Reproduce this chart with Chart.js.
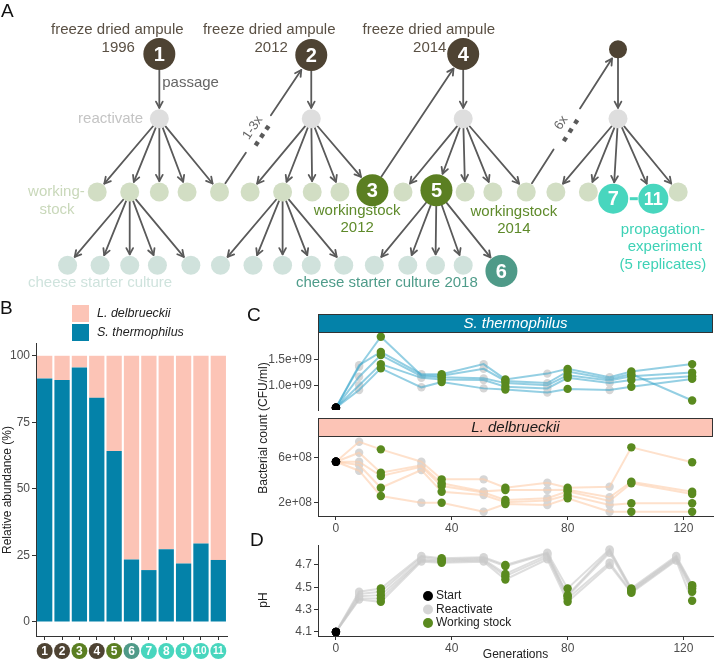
<!DOCTYPE html>
<html>
<head>
<meta charset="utf-8">
<script src="https://cdn.jsdelivr.net/npm/chart.js@4.4.1/dist/chart.umd.min.js"></script>
<style>
body { margin: 0; background: #fff; }
#wrap { position: relative; width: 720px; height: 660px; }
canvas { position: absolute; left: 0; top: 0; }
</style>
</head>
<body>
<div id="wrap">
  <canvas id="chartA" width="720" height="660"></canvas>
  <canvas id="chartB" width="720" height="660"></canvas>
  <canvas id="chartC1" width="720" height="660"></canvas>
  <canvas id="chartC2" width="720" height="660"></canvas>
  <canvas id="chartD" width="720" height="660"></canvas>
</div>
<script>
// ---- panel A: passage scheme (nodes in diagram units) ----
const nodeX = [150, 309, 468, 630,
  150, 309, 468, 630,
  85, 119, 150, 179, 213, 245, 279, 310, 339, 373, 405, 440, 470, 499, 534, 565, 599, 625, 667, 693,
  54, 88, 119, 148, 183, 214, 248, 279, 309, 343, 375, 410, 439, 468, 508]
const nodeY = [40, 41, 40, 35,
  108, 108, 108, 108,
  185, 185, 185, 185, 185, 185, 185, 185, 185, 183, 185, 183, 185, 185, 185, 185, 185, 192, 192, 185,
  262, 262, 262, 262, 262, 262, 262, 262, 262, 262, 262, 262, 262, 262, 268]
const nodeKind = ['ampule', 'ampule', 'ampule', 'ampuleSmall',
  'reactivate', 'reactivate', 'reactivate', 'reactivate',
  'stock', 'stock', 'stock', 'stock', 'stock', 'stock', 'stock', 'stock', 'stock', 'stockKept',
  'stock', 'stockKept', 'stock', 'stock', 'stock', 'stock', 'stock', 'prop', 'prop', 'stock',
  'cheese', 'cheese', 'cheese', 'cheese', 'cheese', 'cheese', 'cheese', 'cheese', 'cheese', 'cheese',
  'cheese', 'cheese', 'cheese', 'cheese', 'cheeseKept']
const nodeLabel = ['1', '2', '4', '', '', '', '', '',
  '', '', '', '', '', '', '', '', '', '3', '', '5', '', '', '', '', '', '7', '11', '',
  '', '', '', '', '', '', '', '', '', '', '', '', '', '', '6']

const edgeFrom = [0, 1, 2, 3, 4, 4, 4, 4, 4, 5, 5, 5, 5, 5, 6, 6, 6, 6, 6, 7, 7, 7, 7, 7,
  9, 9, 9, 9, 9, 14, 14, 14, 14, 14, 19, 19, 19, 19, 19, 17]
const edgeTo = [4, 5, 6, 7, 8, 9, 10, 11, 12, 13, 14, 15, 16, 17, 18, 19, 20, 21, 22, 23, 24, 25, 26, 27,
  28, 29, 30, 31, 32, 33, 34, 35, 36, 37, 38, 39, 40, 41, 42, 2]
const skipFrom = [12, 22]
const skipTo = [1, 3]
const skipLabel = ['1-3x', '6x']

const noteText = ['freeze dried ampule', '1996', 'freeze dried ampule', '2012', 'freeze dried ampule', '2014',
  'passage', 'reactivate', 'working-', 'stock', 'workingstock', '2012', 'workingstock', '2014',
  'propagation-', 'experiment', '(5 replicates)', 'cheese starter culture', 'cheese starter culture 2018']
const noteX = [106, 107, 265, 267, 432, 433, 153, 133, 72, 43, 357, 357, 521, 521, 677, 679, 677, 88, 293]
const noteY = [15, 34, 15, 34, 15, 34, 70, 108, 185, 204, 205, 223, 206, 224, 225, 243, 262, 280, 280]
const noteKind = ['ampule', 'ampule', 'ampule', 'ampule', 'ampule', 'ampule',
  'passage', 'reactivate', 'stock', 'stock', 'stockKept', 'stockKept', 'stockKept', 'stockKept',
  'prop', 'prop', 'prop', 'cheese', 'cheeseKept']
const noteAlign = ['center', 'center', 'center', 'center', 'center', 'center',
  'left', 'right', 'right', 'center', 'center', 'center', 'center', 'center',
  'center', 'center', 'center', 'center', 'left']

// ---- panel B: relative abundance per sample (%) ----
const samples = ['1', '2', '3', '4', '5', '6', '7', '8', '9', '10', '11']
const sampleKind = ['ampule', 'ampule', 'stockKept', 'ampule', 'stockKept', 'cheeseKept', 'prop', 'prop', 'prop', 'prop', 'prop']
const sThermoPct = [91.5, 90.9, 95.6, 84.2, 64.2, 23.5, 19.5, 27.3, 22.0, 29.5, 23.3]
const lDelbPct = [8.5, 9.1, 4.4, 15.8, 35.8, 76.5, 80.5, 72.7, 78.0, 70.5, 76.7]
const pctTicks = [0, 25, 50, 75, 100]

// ---- panel C: counts over generations, 5 replicates ----
const gensC = [0, 8, 15.5, 29.5, 36.5, 51, 58.5, 73, 80, 94.5, 102, 123]
const stageC = ['S', 'R', 'W', 'R', 'W', 'R', 'W', 'R', 'W', 'R', 'W', 'W']
const sThermoReps = [
  [0.585e9, 1.39e9, 1.64e9, 1.22e9, 1.22e9, 1.41e9, 1.12e9, 1.23e9, 1.32e9, 1.16e9, 1.27e9, 1.41e9],
  [0.585e9, 1.36e9, 1.93e9, 1.20e9, 1.19e9, 1.32e9, 1.09e9, 1.05e9, 1.27e9, 1.13e9, 1.22e9, 0.72e9],
  [0.585e9, 1.17e9, 1.58e9, 1.18e9, 1.16e9, 1.14e9, 1.05e9, 1.01e9, 1.20e9, 1.10e9, 1.18e9, 1.25e9],
  [0.585e9, 1.01e9, 1.41e9, 1.15e9, 1.12e9, 1.11e9, 0.98e9, 0.95e9, 1.15e9, 1.05e9, 1.11e9, 1.18e9],
  [0.585e9, 0.92e9, 1.33e9, 0.97e9, 1.07e9, 0.95e9, 0.93e9, 0.87e9, 0.94e9, 0.92e9, 0.98e9, 1.13e9]
]
const lDelbReps = [
  [5.61e8, 7.37e8, 6.70e8, 5.61e8, 4.06e8, 4.06e8, 3.32e8, 3.76e8, 3.32e8, 3.41e8, 6.88e8, 5.56e8],
  [5.61e8, 6.40e8, 4.64e8, 5.30e8, 3.71e8, 3.00e8, 3.12e8, 3.12e8, 3.15e8, 2.48e8, 3.85e8, 2.97e8],
  [5.61e8, 5.61e8, 4.35e8, 5.17e8, 3.47e8, 2.90e8, 2.24e8, 2.39e8, 3.00e8, 2.15e8, 3.71e8, 2.77e8],
  [5.61e8, 5.32e8, 3.32e8, 4.88e8, 2.97e8, 2.68e8, 2.04e8, 2.20e8, 2.68e8, 1.80e8, 1.95e8, 1.95e8],
  [5.61e8, 4.82e8, 2.59e8, 2.00e8, 2.00e8, 1.21e8, 1.89e8, 1.80e8, 2.39e8, 1.21e8, 1.21e8, 1.21e8]
]
const sThermoTicks = [1.0e9, 1.5e9]
const sThermoTickLabels = ['1.0e+09', '1.5e+09']
const lDelbTicks = [2e8, 6e8]
const lDelbTickLabels = ['2e+08', '6e+08']
const genTicks = [0, 40, 80, 120]

// ---- panel D: pH ----
const gensD = [0, 8, 15.5, 29.5, 36.5, 51, 58.5, 73, 80, 94.5, 102, 117.5, 123]
const stageD = ['S', 'R', 'W', 'R', 'W', 'R', 'W', 'R', 'W', 'R', 'W', 'R', 'W']
const phReps = [
  [4.10, 4.46, 4.49, 4.78, 4.76, 4.77, 4.70, 4.81, 4.49, 4.84, 4.49, 4.78, 4.52],
  [4.10, 4.44, 4.46, 4.77, 4.75, 4.76, 4.69, 4.80, 4.43, 4.83, 4.48, 4.77, 4.51],
  [4.10, 4.42, 4.43, 4.75, 4.74, 4.75, 4.62, 4.79, 4.42, 4.81, 4.47, 4.76, 4.49],
  [4.10, 4.40, 4.40, 4.74, 4.73, 4.74, 4.60, 4.77, 4.40, 4.72, 4.46, 4.75, 4.46],
  [4.10, 4.39, 4.37, 4.73, 4.72, 4.73, 4.57, 4.75, 4.37, 4.70, 4.45, 4.74, 4.38]
]
const phTicks = [4.1, 4.3, 4.5, 4.7]

// styles
const FONT = "'Liberation Sans', Arial, sans-serif"
const nodeStyle = {
  ampule: { r: 16, color: '#4e4333', text: '#5a5044' },
  ampuleSmall: { r: 9, color: '#4e4333', text: '#5a5044' },
  reactivate: { r: 9.5, color: '#dedede', text: '#c4c4c4' },
  stock: { r: 9.5, color: '#d2dec4', text: '#c9d8ba' },
  stockKept: { r: 16, color: '#5b7f22', text: '#5e8a2a' },
  cheese: { r: 9.5, color: '#d0e2dc', text: '#cfe3dd' },
  cheeseKept: { r: 16, color: '#4f9a88', text: '#4f9c8a' },
  prop: { r: 15, color: '#48d6be', text: '#3ed2b6' },
  passage: { text: '#666666' }
}
const arrowColor = '#5a5a5a'
const blue = '#0482a9'
const pink = '#fcc4b6'
const green = '#5a8a1f'
const grey = '#d6d6d6'

Chart.defaults.font.family = FONT
Chart.defaults.font.size = 12
Chart.defaults.color = '#4d4d4d'
Chart.defaults.animation = false
Chart.defaults.events = []
Chart.defaults.responsive = false
Chart.defaults.plugins.legend.display = false
Chart.defaults.plugins.tooltip.enabled = false

function txt(ctx, s, x, y, font, color, align, rot) {
  ctx.save()
  ctx.translate(x, y)
  if (rot) ctx.rotate(rot)
  ctx.font = font
  ctx.fillStyle = color
  ctx.textAlign = align || 'center'
  ctx.textBaseline = 'middle'
  ctx.fillText(s, 0, 0)
  ctx.restore()
}

function arrowHead(ctx, x, y, ux, uy) {
  const len = 7, a = 0.5
  ctx.beginPath()
  ctx.moveTo(x - len * (ux * Math.cos(a) - uy * Math.sin(a)), y - len * (uy * Math.cos(a) + ux * Math.sin(a)))
  ctx.lineTo(x, y)
  ctx.lineTo(x - len * (ux * Math.cos(a) + uy * Math.sin(a)), y - len * (uy * Math.cos(a) - ux * Math.sin(a)))
  ctx.stroke()
}

function segment(ctx, x1, y1, x2, y2) {
  ctx.beginPath()
  ctx.moveTo(x1, y1)
  ctx.lineTo(x2, y2)
  ctx.stroke()
}

function fixedTicks(list) {
  return s => { s.ticks = list.map(v => ({ value: v })) }
}

function axisBase() {
  return {
    border: { display: true, color: '#333', width: 1 },
    grid: { drawOnChartArea: false, drawTicks: true, tickLength: 4, color: '#333', offset: false }
  }
}

// ---------------- panel A ----------------
const diagramPlugin = {
  id: 'diagram',
  beforeDatasetsDraw(chart) {
    const { ctx } = chart
    const sx = chart.scales.x, sy = chart.scales.y
    const P = i => [sx.getPixelForValue(nodeX[i]), sy.getPixelForValue(nodeY[i])]
    const R = i => nodeStyle[nodeKind[i]].r
    ctx.save()
    ctx.strokeStyle = arrowColor
    ctx.lineWidth = 1.8
    ctx.lineCap = 'round'
    ctx.lineJoin = 'round'
    edgeFrom.forEach((f, k) => {
      const t = edgeTo[k]
      const [x1, y1] = P(f), [x2, y2] = P(t)
      const d = Math.hypot(x2 - x1, y2 - y1), ux = (x2 - x1) / d, uy = (y2 - y1) / d
      const ex = x2 - ux * (R(t) + 1.5), ey = y2 - uy * (R(t) + 1.5)
      segment(ctx, x1 + ux * R(f), y1 + uy * R(f), ex, ey)
      arrowHead(ctx, ex, ey, ux, uy)
    })
    skipFrom.forEach((f, k) => {
      const t = skipTo[k]
      const [x1, y1] = P(f), [x2, y2] = P(t)
      const d = Math.hypot(x2 - x1, y2 - y1), ux = (x2 - x1) / d, uy = (y2 - y1) / d
      const sx0 = x1 + ux * (R(f) + 1), sy0 = y1 + uy * (R(f) + 1)
      const ex = x2 - ux * (R(t) + 2), ey = y2 - uy * (R(t) + 2)
      const L = Math.hypot(ex - sx0, ey - sy0)
      const at = p => [sx0 + ux * L * p, sy0 + uy * L * p]
      segment(ctx, sx0, sy0, ...at(0.27))
      segment(ctx, ...at(0.6), ex, ey)
      arrowHead(ctx, ex, ey, ux, uy)
      const nx = -uy, ny = ux
      ctx.fillStyle = arrowColor
      ;[0.37, 0.44, 0.51].forEach(p => {
        const [qx, qy] = at(p)
        ctx.save()
        ctx.translate(qx + nx * 4, qy + ny * 4)
        ctx.rotate(Math.atan2(uy, ux))
        ctx.fillRect(-2.2, -2.2, 4.4, 4.4)
        ctx.restore()
      })
      const [lx, ly] = at(0.45)
      txt(ctx, skipLabel[k], lx - nx * 8, ly - ny * 8, '13px ' + FONT, '#666', 'center', Math.atan2(uy, ux))
    })
    ctx.restore()
  },
  afterDatasetsDraw(chart) {
    const { ctx } = chart
    const sx = chart.scales.x, sy = chart.scales.y
    nodeLabel.forEach((s, i) => {
      if (!s) return
      const size = s.length > 1 ? 18 : 20
      txt(ctx, s, sx.getPixelForValue(nodeX[i]), sy.getPixelForValue(nodeY[i]) + 1, 'bold ' + size + 'px ' + FONT, '#fff')
    })
    // dash between replicate 7 and 11
    const a = nodeLabel.indexOf('7'), b = nodeLabel.indexOf('11')
    const mx = (sx.getPixelForValue(nodeX[a]) + sx.getPixelForValue(nodeX[b])) / 2 + 0.5
    ctx.save()
    ctx.strokeStyle = nodeStyle.prop.color
    ctx.lineWidth = 3
    segment(ctx, mx - 4, sy.getPixelForValue(nodeY[a]), mx + 4, sy.getPixelForValue(nodeY[a]))
    ctx.restore()
    noteText.forEach((s, i) => {
      txt(ctx, s, sx.getPixelForValue(noteX[i]), sy.getPixelForValue(noteY[i]), '15px ' + FONT,
        nodeStyle[noteKind[i]].text, noteAlign[i])
    })
    txt(ctx, 'A', 1, 12, '19px ' + FONT, '#111', 'left')
  }
}

new Chart(document.getElementById('chartA'), {
  type: 'scatter',
  data: {
    datasets: [{
      data: nodeX.map((v, i) => ({ x: v, y: nodeY[i] })),
      pointRadius: c => nodeStyle[nodeKind[c.dataIndex]].r,
      pointBackgroundColor: c => nodeStyle[nodeKind[c.dataIndex]].color,
      pointBorderWidth: 0,
      clip: false
    }]
  },
  options: {
    devicePixelRatio: 1,
    layout: { padding: 0 },
    scales: {
      x: { type: 'linear', display: false, min: 0, max: 720 },
      y: { type: 'linear', display: false, min: 0, max: 660, reverse: true }
    }
  },
  plugins: [diagramPlugin]
})

// ---------------- panel B ----------------
const panelBPlugin = {
  id: 'panelB',
  afterDraw(chart) {
    const { ctx } = chart
    const xs = chart.scales.x
    samples.forEach((s, i) => {
      const cx = xs.getPixelForValue(i)
      ctx.beginPath()
      ctx.arc(cx, 651, 8, 0, Math.PI * 2)
      ctx.fillStyle = nodeStyle[sampleKind[i]].color
      ctx.fill()
      txt(ctx, s, cx, 651.5, 'bold ' + (s.length > 1 ? 10 : 12) + 'px ' + FONT, '#fff')
    })
    const items = chart.data.datasets.slice().reverse()
    items.forEach((ds, k) => {
      ctx.fillStyle = ds.backgroundColor
      ctx.fillRect(72, 305 + k * 19, 17, 17)
      txt(ctx, ds.label, 97, 313.5 + k * 19, 'italic 12.5px ' + FONT, '#222', 'left')
    })
    txt(ctx, 'Relative abundance (%)', 8, 490, '12px ' + FONT, '#222', 'center', -Math.PI / 2)
    txt(ctx, 'B', 0, 309, '19px ' + FONT, '#111', 'left')
  }
}

const bx = axisBase()
const by = axisBase()
new Chart(document.getElementById('chartB'), {
  type: 'bar',
  data: {
    labels: samples,
    datasets: [
      { label: 'S. thermophilus', data: sThermoPct, backgroundColor: blue, stack: 'a' },
      { label: 'L. delbrueckii', data: lDelbPct, backgroundColor: pink, stack: 'a' }
    ]
  },
  options: {
    devicePixelRatio: 1,
    layout: { padding: { left: 6, top: 343, right: 493, bottom: 20 } },
    datasets: { bar: { categoryPercentage: 1, barPercentage: 0.88, borderWidth: 0 } },
    scales: {
      x: Object.assign(bx, { stacked: true, ticks: { display: false }, afterFit: s => { s.height = 4 } }),
      y: Object.assign(by, {
        stacked: true, min: -5.26, max: 104.8,
        afterBuildTicks: fixedTicks(pctTicks),
        ticks: { padding: 2, color: '#4d4d4d', font: { size: 12 } },
        afterFit: s => { s.width = 30 }
      })
    }
  },
  plugins: [panelBPlugin]
})

// ---------------- panels C and D ----------------
function repLines(gens, reps, color) {
  return reps.map(vals => ({
    data: vals.map((v, i) => ({ x: gens[i], y: v })),
    showLine: true, borderColor: color, borderWidth: 2, pointRadius: 0, order: 2
  }))
}
function stagePoints(gens, stages, reps, stage, color, order) {
  const pts = []
  reps.forEach(vals => vals.forEach((v, i) => {
    if (stages[i] === stage) pts.push({ x: gens[i], y: v })
  }))
  return { data: pts, pointRadius: 4.2, pointBackgroundColor: color, pointBorderWidth: 0,
    backgroundColor: color, borderColor: color, showLine: false, order }
}
function trajDatasets(gens, stages, reps, lineColor) {
  return [
    stagePoints(gens, stages, reps, 'R', grey, 3),
    ...repLines(gens, reps, lineColor),
    stagePoints(gens, stages, reps, 'W', green, 1),
    stagePoints(gens, stages, reps, 'S', '#000', 0)
  ]
}
function stripPlugin(label, fill, color, extra) {
  return {
    id: 'strip',
    afterDraw(chart) {
      const { ctx, chartArea: a } = chart
      ctx.save()
      ctx.fillStyle = fill
      ctx.fillRect(a.left, a.top - 19, a.right - a.left, 19)
      ctx.strokeStyle = '#333'
      ctx.lineWidth = 1
      ctx.strokeRect(a.left + 0.5, a.top - 18.5, a.right - a.left - 1, 18)
      ctx.restore()
      txt(ctx, label, (a.left + a.right) / 2, a.top - 9.5, 'italic 15px ' + FONT, color)
      if (extra) extra(chart)
    }
  }
}
function yAxis(min, max, ticks, labels) {
  return Object.assign(axisBase(), {
    min, max,
    afterBuildTicks: fixedTicks(ticks),
    ticks: { padding: 2, color: '#4d4d4d', font: { size: 12 }, callback: (v, i) => labels[i] },
    afterFit: s => { s.width = 56 }
  })
}
function xAxis(height) {
  return Object.assign(axisBase(), {
    type: 'linear', min: -6.2, max: 130.2,
    afterBuildTicks: fixedTicks(genTicks),
    ticks: { padding: 1, color: '#4d4d4d', font: { size: 12 } },
    afterFit: s => { s.height = height }
  })
}

new Chart(document.getElementById('chartC1'), {
  type: 'scatter',
  data: { datasets: trajDatasets(gensC, stageC, sThermoReps, 'rgba(60,168,204,0.55)') },
  options: {
    devicePixelRatio: 1,
    layout: { padding: { left: 262, top: 333, right: 7, bottom: 250 } },
    scales: {
      x: { type: 'linear', display: false, min: -6.2, max: 130.2 },
      y: yAxis(0.54e9, 2.0e9, sThermoTicks, sThermoTickLabels)
    }
  },
  plugins: [stripPlugin('S. thermophilus', blue, '#fff', chart => {
    txt(chart.ctx, 'C', 247, 316, '19px ' + FONT, '#111', 'left')
    txt(chart.ctx, 'Bacterial count (CFU/ml)', 264, 428, '12px ' + FONT, '#222', 'center', -Math.PI / 2)
  })]
})

new Chart(document.getElementById('chartC2'), {
  type: 'scatter',
  data: { datasets: trajDatasets(gensC, stageC, lDelbReps, 'rgba(253,205,170,0.6)') },
  options: {
    devicePixelRatio: 1,
    layout: { padding: { left: 262, top: 437, right: 7, bottom: 126 } },
    scales: {
      x: xAxis(18),
      y: yAxis(0.83e8, 7.79e8, lDelbTicks, lDelbTickLabels)
    }
  },
  plugins: [stripPlugin('L. delbrueckii', pink, '#1a1a1a')]
})

const panelDPlugin = {
  id: 'panelD',
  afterDraw(chart) {
    const { ctx, chartArea: a } = chart
    const keys = [['Start', '#000'], ['Reactivate', grey], ['Working stock', green]]
    keys.forEach(([s, c], k) => {
      const y = 596 + k * 13.5
      ctx.beginPath()
      ctx.arc(428, y, 5, 0, Math.PI * 2)
      ctx.fillStyle = c
      ctx.fill()
      txt(ctx, s, 436, y, '12px ' + FONT, '#222', 'left')
    })
    txt(ctx, 'Generations', (a.left + a.right) / 2, 655, '12px ' + FONT, '#222')
    txt(ctx, 'pH', 264, 600, '12px ' + FONT, '#222', 'center', -Math.PI / 2)
    txt(ctx, 'D', 250, 541, '19px ' + FONT, '#111', 'left')
  }
}

new Chart(document.getElementById('chartD'), {
  type: 'scatter',
  data: { datasets: trajDatasets(gensD, stageD, phReps, 'rgba(200,200,200,0.6)') },
  options: {
    devicePixelRatio: 1,
    layout: { padding: { left: 262, top: 545, right: 7, bottom: 0 } },
    scales: {
      x: xAxis(24),
      y: yAxis(4.064, 4.879, phTicks, phTicks.map(v => v.toFixed(1)))
    }
  },
  plugins: [panelDPlugin]
})
</script>
</body>
</html>
